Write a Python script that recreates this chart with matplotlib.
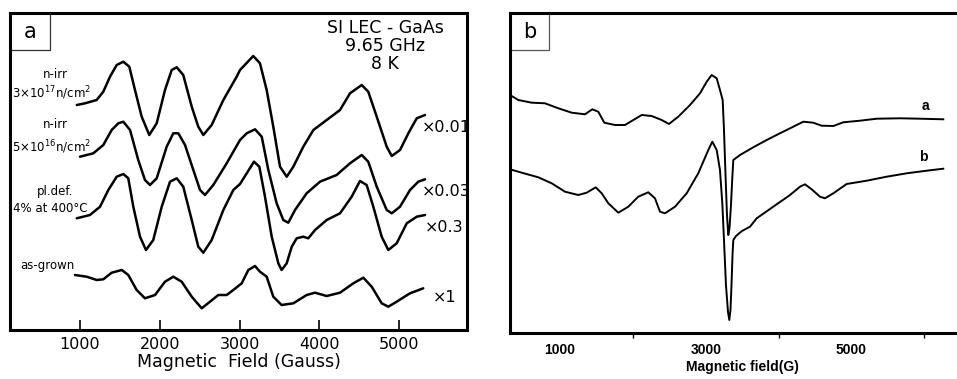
import matplotlib
matplotlib.use("Agg")
import matplotlib.pyplot as plt
from matplotlib.patches import Rectangle

# --- panel a: ESR spectra of SI LEC-GaAs (field in Gauss, signal in a.u.) ---
field_irr17 = [960, 1063, 1209, 1292, 1376, 1460, 1543, 1618, 1689, 1773, 1868, 1961, 2065,
               2149, 2212, 2294, 2400, 2482, 2545, 2650, 2796, 2963, 3005, 3171, 3255, 3339,
               3422, 3506, 3590, 3673, 3798, 3924, 4091, 4258, 4383, 4530, 4612, 4718, 4843,
               4906, 5010, 5114, 5219, 5323]
signal_irr17 = [225, 226.7, 230, 238.3, 253.3, 265, 268.3, 263.3, 240, 213.3, 195, 206.7, 240,
                260, 262.7, 255, 223.3, 203.3, 195, 205, 230, 253.3, 260, 274, 266.7, 240,
                203.3, 163.3, 153.3, 163.3, 183.3, 200, 210, 220, 236.7, 245, 238.3, 213.3, 183.3,
                174, 180, 196.7, 211.7, 215]

field_irr16 = [1000, 1167, 1292, 1397, 1480, 1543, 1627, 1730, 1814, 1877, 1961, 2086, 2169,
               2232, 2316, 2420, 2504, 2566, 2670, 2838, 3005, 3089, 3193, 3277, 3360, 3464,
               3547, 3610, 3694, 3840, 4007, 4216, 4383, 4530, 4612, 4718, 4843, 4906, 5010,
               5135, 5239, 5323]
signal_irr16 = [173.3, 176.7, 185, 200, 206.7, 208.3, 200, 170, 150, 145, 151.7, 183.3, 196.7,
                196.7, 185, 160, 140, 135, 145, 166.7, 190, 196.7, 200.7, 193.3, 160, 126.7,
                110, 107.3, 120, 136.7, 148.3, 155, 166.7, 175, 168.3, 143.3, 120, 116.7, 123.3,
                140, 148.3, 150.7]

field_pldef = [959, 1125, 1251, 1355, 1460, 1543, 1605, 1668, 1752, 1827, 1918, 2024, 2128,
               2212, 2294, 2400, 2482, 2545, 2650, 2796, 2921, 3005, 3089, 3180, 3247, 3318,
               3402, 3485, 3526, 3590, 3653, 3715, 3798, 3861, 3945, 4091, 4258, 4404, 4508,
               4592, 4675, 4780, 4863, 4968, 5094, 5219, 5323]
signal_pldef = [111.7, 115, 123.3, 140, 153.3, 156, 151.7, 123.3, 93.3, 80, 90, 123.3, 148.3,
                151.7, 143.3, 110, 83.3, 77.3, 90, 120, 140, 146, 156.7, 168.3, 163.3, 133.3,
                93.3, 66.7, 60, 66.7, 83.3, 91.7, 93.3, 91.7, 100, 110, 116.7, 133.3, 149,
                145, 123.3, 93.3, 80, 86.7, 106.7, 113.3, 115]

field_grown = [937, 1084, 1209, 1292, 1397, 1523, 1605, 1710, 1814, 1940, 2065, 2169, 2274,
               2400, 2525, 2629, 2733, 2838, 2921, 3026, 3109, 3193, 3255, 3339, 3422, 3526,
               3673, 3840, 3945, 4091, 4258, 4425, 4550, 4655, 4780, 4863, 4968, 5135, 5301]
signal_grown = [55, 53.3, 50, 50.7, 57.3, 60, 55, 40, 31.7, 35, 48.3, 53.3, 48.3,
                33.3, 21.7, 28.3, 35, 35, 40, 46.7, 60, 64, 58.3, 53.3, 33.3, 25,
                26.7, 35, 37.3, 34, 37.3, 46.7, 52.3, 43.3, 26.7, 23.3, 28.3, 36.7, 41.7]

# --- panel b: two spectra a and b (field in G) ---
field_b_a = [314, 428, 612, 794, 977, 1161, 1343, 1443, 1525, 1608, 1755, 1892, 2006, 2121,
             2258, 2395, 2495, 2623, 2784, 2921, 3013, 3081, 3150, 3195, 3232, 3250, 3271,
             3291, 3309, 3326, 3346, 3364, 3378, 3470, 3652, 3836, 4018, 4201, 4338, 4475,
             4590, 4750, 4887, 5116, 5345, 5665, 5939, 6259]
signal_b_a = [238, 233, 230.3, 229.7, 224.7, 220.3, 218.7, 223.7, 221.3, 210.3, 208, 208, 213,
              218, 217, 213, 209, 216.3, 228, 239.7, 251.3, 258, 254.7, 243, 233, 203, 158,
              118, 98, 105, 128, 155, 173, 178, 185.7, 193, 199.7, 206.3, 211.3, 210.3,
              207.3, 207, 210.7, 212.3, 214.3, 214.7, 214.3, 213.7]

field_b_b = [314, 475, 702, 886, 1069, 1251, 1366, 1490, 1572, 1663, 1800, 1937, 2074, 2211,
             2303, 2372, 2441, 2578, 2738, 2897, 3035, 3090, 3150, 3195, 3227, 3250, 3277,
             3305, 3323, 3339, 3353, 3367, 3378, 3415, 3497, 3607, 3699, 3926, 4156, 4293,
             4361, 4453, 4567, 4636, 4750, 4933, 5208, 5482, 5757, 6031, 6259]
signal_b_b = [163.7, 160.3, 155.7, 149.7, 141.3, 138, 140.3, 145.7, 139.7, 129.7, 120.3, 126.3,
              136.3, 140.7, 134.7, 121.3, 119.7, 126.3, 139.7, 159.7, 183, 191.3, 183, 163,
              129.7, 93, 48, 21, 13, 23, 48, 78, 93, 97, 102, 106.3, 114.7, 126.3, 138,
              146.3, 148.7, 143.7, 136.3, 134.7, 139.7, 149, 152.3, 156.3, 159.7, 162.3, 164.3]

ticks_a = [1000, 2000, 3000, 4000, 5000]
ticks_b = [1000, 3000, 5000]
minor_b = [2000, 4000, 6000]

W, H = 957, 379


def px_box(left, top, right, bottom):
    return [left / W, 1 - bottom / H, (right - left) / W, (bottom - top) / H]


plt.rcParams['font.family'] = ['DejaVu Sans']
plt.rcParams['mathtext.fontset'] = 'dejavusans'

fig = plt.figure(figsize=(W / 100, H / 100), dpi=100)

# ---------------- panel a ----------------
ax_a = fig.add_axes(px_box(10, 13, 467, 330))
line_kw = dict(color='black', lw=1.8, solid_joinstyle='round', solid_capstyle='round')
ax_a.plot(field_irr17, signal_irr17, **line_kw)
ax_a.plot(field_irr16, signal_irr16, **line_kw)
ax_a.plot(field_pldef, signal_pldef, **line_kw)
ax_a.plot(field_grown, signal_grown, **line_kw)
ax_a.set_xlim(123, 5849)
ax_a.set_ylim(0, 317)
ax_a.set_yticks([])
ax_a.set_xticks(ticks_a)
ax_a.tick_params(axis='x', direction='in', length=7, width=1.2, pad=5, labelsize=11.5)
for s in ax_a.spines.values():
    s.set_linewidth(2.2)
ax_a.set_xlabel('Magnetic  Field (Gauss)', fontsize=12.5, labelpad=1)

ax_a.text(4822, 284, 'SI LEC - GaAs\n9.65 GHz\n8 K', ha='center', va='center',
          fontsize=12.5, linespacing=1.0)

lab_kw = dict(ha='center', va='center', fontsize=8.5)
ax_a.text(687, 255, 'n-irr', **lab_kw)
ax_a.text(649, 237, r'3×10$^{17}$n/cm$^2$', **lab_kw)
ax_a.text(687, 205, 'n-irr', **lab_kw)
ax_a.text(649, 183, r'5×10$^{16}$n/cm$^2$', **lab_kw)
ax_a.text(687, 138, 'pl.def.', **lab_kw)
ax_a.text(624, 122, '4% at 400°C', **lab_kw)
ax_a.text(587, 65, 'as-grown', **lab_kw)

scale_kw = dict(ha='left', va='center', fontsize=11.5)
ax_a.text(5285, 203, '×0.01', **scale_kw)
ax_a.text(5285, 138, '×0.03', **scale_kw)
ax_a.text(5323, 102, '×0.3', **scale_kw)
ax_a.text(5423, 33, '×1', **scale_kw)

ax_a.add_patch(Rectangle((0, 0.883), 0.0875, 0.117, transform=ax_a.transAxes,
                         fill=False, lw=0.9, ec='#333333', clip_on=False))
ax_a.text(0.044, 0.94, 'a', transform=ax_a.transAxes, ha='center', va='center', fontsize=15)

# ---------------- panel b ----------------
ax_b = fig.add_axes(px_box(510, 13, 975, 333))
ax_b.plot(field_b_a, signal_b_a, color='black', lw=1.4, solid_joinstyle='round')
ax_b.plot(field_b_b, signal_b_b, color='black', lw=1.4, solid_joinstyle='round')
ax_b.set_xlim(314, 6694)
ax_b.set_ylim(0, 320)
ax_b.set_yticks([])
ax_b.set_xticks(ticks_b)
ax_b.set_xticks(minor_b, minor=True)
ax_b.tick_params(axis='x', which='major', length=0, pad=7)
ax_b.tick_params(axis='x', which='minor', direction='out', length=3.5, width=1.0)
for lbl in ax_b.get_xticklabels():
    lbl.set_fontfamily('Liberation Sans')
    lbl.set_fontweight('bold')
    lbl.set_fontsize(10)
for s in ax_b.spines.values():
    s.set_linewidth(2.2)
ax_b.set_xlabel('Magnetic field(G)', fontfamily='Liberation Sans', fontweight='bold',
                fontsize=10, labelpad=2)

ax_b.text(6008, 227, 'a', ha='center', va='center', fontsize=10,
          fontfamily='Liberation Sans', fontweight='bold')
ax_b.text(5980, 176, 'b', ha='center', va='center', fontsize=10,
          fontfamily='Liberation Sans', fontweight='bold')

ax_b.add_patch(Rectangle((0, 0.884), 0.0839, 0.116, transform=ax_b.transAxes,
                         fill=False, lw=0.9, ec='#555555', clip_on=False))
ax_b.text(0.042, 0.942, 'b', transform=ax_b.transAxes, ha='center', va='center', fontsize=15)

fig.savefig('out.png', dpi=100)
